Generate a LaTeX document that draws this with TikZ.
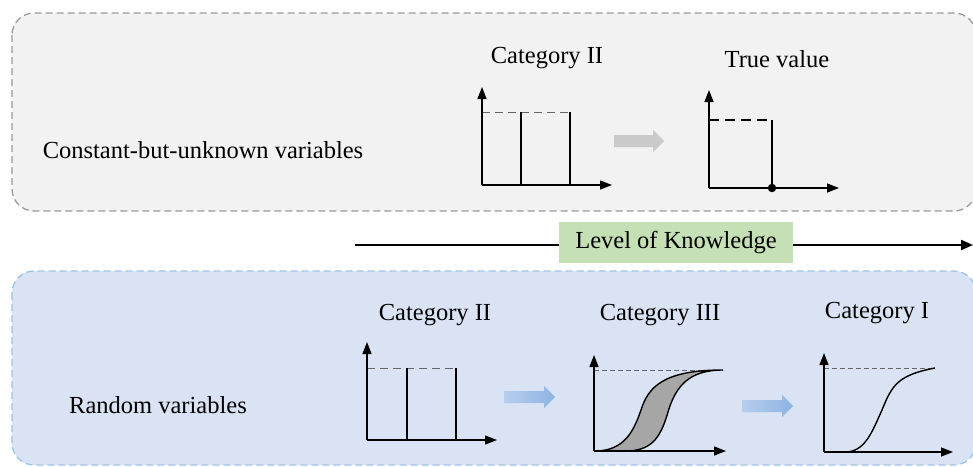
\documentclass[tikz,border=0pt]{standalone}
\usepackage{fontspec}
\setmainfont{Liberation Serif}
\usetikzlibrary{arrows.meta}
\definecolor{panelgray}{HTML}{F2F2F2}
\definecolor{panelgrayline}{HTML}{9A9A9A}
\definecolor{panelblue}{HTML}{DAE3F3}
\definecolor{panelblueline}{HTML}{9DC3E6}
\definecolor{knowgreen}{HTML}{C5E0B4}
\definecolor{stepgray}{HTML}{CACACA}
\definecolor{stepblueA}{HTML}{B6CEEE}
\definecolor{stepblueB}{HTML}{8EB4E3}
\definecolor{bandgray}{HTML}{A6A6A6}
\tikzset{
  x=1pt, y=-1pt,
  lbl/.style={inner sep=0pt, font=\fontsize{24.5}{28}\selectfont},
  panel/.style={rounded corners=22pt, dashed, dash pattern=on 7pt off 4pt, line width=1.3pt},
  axis/.style={line width=1.3pt, -{Triangle[length=12pt,width=9pt]}},
  bar/.style={line width=1.4pt},
  limitline/.style={dashed, dash pattern=on 8pt off 5pt, line width=1pt, draw=black!60},
  curve/.style={line width=1.4pt},
}
% a fat block arrow from x=#1 to x=#2 at height #3
\newcommand{\blockarrow}[4]{%
  \fill[#4] (#1,#3-6) -- (#2-11,#3-6) -- (#2-11,#3-11) -- (#2,#3) -- (#2-11,#3+11) -- (#2-11,#3+6) -- (#1,#3+6) -- cycle;}
\begin{document}
\begin{tikzpicture}
\useasboundingbox (0,0) rectangle (973,466);

% ---------- panels ----------
\draw[panel, fill=panelgray, draw=panelgrayline] (12,13) rectangle (976,211);
\draw[panel, fill=panelblue, draw=panelblueline] (12,271) rectangle (976,465);

% ---------- level of knowledge axis ----------
\node[fill=knowgreen, minimum width=234pt, minimum height=41pt, inner sep=0pt,
      font=\fontsize{24.5}{28}\selectfont] (know) at (676,242.5) {Level of Knowledge};
\coordinate (kstart) at (355,245);
\coordinate (kend) at (973,245);
\draw[line width=2pt] (kstart) -- (kstart -| know.west);
\draw[line width=2pt, -{Triangle[length=12pt,width=10pt]}] (kend -| know.east) -- (kend);

% ---------- row labels ----------
\node[lbl] (cbu) at (203,150) {Constant-but-unknown variables};
\node[lbl] (rv) at (158,405) {Random variables};

% ---------- top row: Category II ----------
\node[lbl] (t2) at (547,58) {Category II};
\coordinate (o1) at (482,185);
\draw[limitline] (482,112) -- (570,112);
\draw[bar] (521,185) -- (521,112);
\draw[bar] (570,185) -- (570,112);
\draw[axis] (o1) -- (482,87);
\draw[axis] (o1) -- (612,185);

\blockarrow{614}{664}{141}{stepgray}

% ---------- top row: true value ----------
\node[lbl] (tv) at (777,59) {True value};
\coordinate (o2) at (709,188);
\draw[dashed, dash pattern=on 10pt off 6pt, line width=1.3pt] (709,120) -- (772,120);
\draw[bar] (772,120) -- (772,188);
\draw[axis] (o2) -- (709,90);
\draw[axis] (o2) -- (839,188);
\fill (772,188) circle (4.2pt);

% ---------- bottom row: Category II ----------
\node[lbl] (b2) at (435,315) {Category II};
\coordinate (o3) at (367,440);
\draw[limitline] (367,368) -- (456,368);
\draw[bar] (407,440) -- (407,368);
\draw[bar] (456,440) -- (456,368);
\draw[axis] (o3) -- (367,342);
\draw[axis] (o3) -- (497,440);

\shade[left color=stepblueA, right color=stepblueB]
  (504,391) -- (544,391) -- (544,386) -- (555,397) -- (544,408) -- (544,403) -- (504,403) -- cycle;

% ---------- bottom row: Category III ----------
\node[lbl] (b3) at (660,315) {Category III};
\coordinate (o4) at (594,451);
\draw[dashed, dash pattern=on 5pt off 3pt, line width=0.8pt, draw=black!60] (594,370) -- (723,370);
\filldraw[curve, fill=bandgray]
  (595,451) .. controls (625,451) and (634,430) .. (641,410)
            .. controls (648,388) and (662,370) .. (723,370)
            .. controls (690,370) and (676,385) .. (668,412)
            .. controls (660,440) and (650,451) .. (625,451) -- cycle;
\draw[axis] (o4) -- (594,355);
\draw[axis] (o4) -- (726,451);

\shade[left color=stepblueA, right color=stepblueB]
  (742,400) -- (782,400) -- (782,395) -- (793,406) -- (782,417) -- (782,412) -- (742,412) -- cycle;

% ---------- bottom row: Category I ----------
\node[lbl] (b1) at (877,313) {Category I};
\coordinate (o5) at (824,452);
\draw[dashed, dash pattern=on 5pt off 3pt, line width=0.8pt, draw=black!60] (824,368) -- (935,368);
\draw[curve] (824,452) -- (845,452) .. controls (865,452) and (872,432) .. (882,410)
             .. controls (892,385) and (898,375) .. (935,368);
\draw[axis] (o5) -- (824,353);
\draw[axis] (o5) -- (953,452);
\end{tikzpicture}
\end{document}
